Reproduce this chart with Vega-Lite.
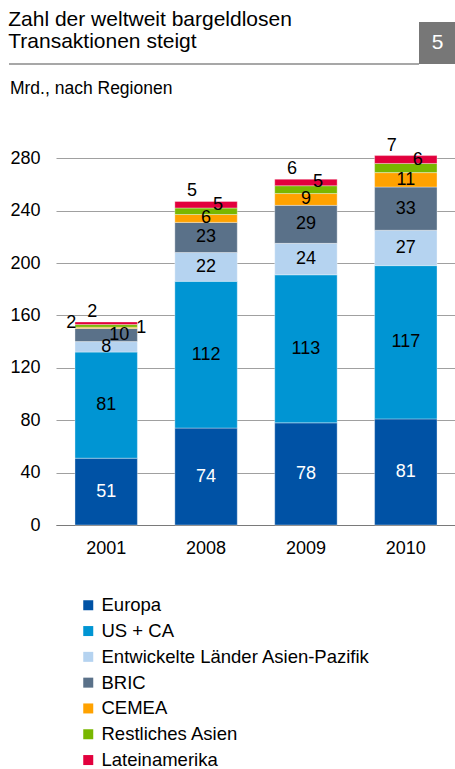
{
  "$schema": "https://vega.github.io/schema/vega-lite/v6.json",
  "padding": {"left": 8, "top": 8, "right": 0, "bottom": 0},
  "background": "white",
  "config": {
    "font": "Liberation Sans",
    "view": {"stroke": null},
    "title": {"fontWeight": "normal", "color": "#000000", "font": "Liberation Sans"},
    "axis": {"labelFont": "Liberation Sans", "labelColor": "#000000"},
    "text": {"font": "Liberation Sans"},
    "legend": {
      "labelFont": "Liberation Sans",
      "labelFontSize": 18.5,
      "labelColor": "#000000",
      "labelLimit": 400,
      "symbolType": "square",
      "symbolSize": 100,
      "symbolStrokeWidth": 0,
      "rowPadding": 6.8,
      "labelOffset": 4,
      "padding": 0
    }
  },
  "title": {
    "text": ["Zahl der weltweit bargeldlosen", "Transaktionen steigt"],
    "anchor": "start",
    "fontSize": 21,
    "lineHeight": 22.5,
    "offset": -30
  },
  "datasets": {
    "tx": [
      {"year": "2001", "region": "Europa", "value": 51},
      {"year": "2001", "region": "US + CA", "value": 81},
      {"year": "2001", "region": "Entwickelte Länder Asien-Pazifik", "value": 8},
      {"year": "2001", "region": "BRIC", "value": 10},
      {"year": "2001", "region": "CEMEA", "value": 1},
      {"year": "2001", "region": "Restliches Asien", "value": 2},
      {"year": "2001", "region": "Lateinamerika", "value": 2},
      {"year": "2008", "region": "Europa", "value": 74},
      {"year": "2008", "region": "US + CA", "value": 112},
      {"year": "2008", "region": "Entwickelte Länder Asien-Pazifik", "value": 22},
      {"year": "2008", "region": "BRIC", "value": 23},
      {"year": "2008", "region": "CEMEA", "value": 6},
      {"year": "2008", "region": "Restliches Asien", "value": 5},
      {"year": "2008", "region": "Lateinamerika", "value": 5},
      {"year": "2009", "region": "Europa", "value": 78},
      {"year": "2009", "region": "US + CA", "value": 113},
      {"year": "2009", "region": "Entwickelte Länder Asien-Pazifik", "value": 24},
      {"year": "2009", "region": "BRIC", "value": 29},
      {"year": "2009", "region": "CEMEA", "value": 9},
      {"year": "2009", "region": "Restliches Asien", "value": 6},
      {"year": "2009", "region": "Lateinamerika", "value": 5},
      {"year": "2010", "region": "Europa", "value": 81},
      {"year": "2010", "region": "US + CA", "value": 117},
      {"year": "2010", "region": "Entwickelte Länder Asien-Pazifik", "value": 27},
      {"year": "2010", "region": "BRIC", "value": 33},
      {"year": "2010", "region": "CEMEA", "value": 11},
      {"year": "2010", "region": "Restliches Asien", "value": 7},
      {"year": "2010", "region": "Lateinamerika", "value": 6}
    ]
  },
  "resolve": {"scale": {"x": "independent", "y": "independent"}},
  "spacing": 14,
  "vconcat": [
    {
      "width": 400,
      "height": 42,
      "data": {"values": [{"n": "5"}]},
      "layer": [
        {
          "mark": {"type": "rule", "color": "#8a8a8a", "strokeWidth": 1.5},
          "encoding": {
            "x": {"datum": -47, "type": "quantitative", "scale": {"domain": [0, 400], "nice": false, "zero": false}, "axis": null},
            "x2": {"datum": 363},
            "y": {"datum": 0, "type": "quantitative", "scale": {"domain": [0, 1], "nice": false}, "axis": null}
          }
        },
        {
          "mark": {"type": "rect", "color": "#777777"},
          "encoding": {
            "x": {"datum": 363, "type": "quantitative"},
            "x2": {"datum": 400},
            "y": {"datum": 0, "type": "quantitative"},
            "y2": {"datum": 1}
          }
        },
        {
          "mark": {"type": "text", "color": "#ffffff", "fontSize": 21, "baseline": "middle", "align": "center"},
          "encoding": {
            "text": {"field": "n"},
            "x": {"datum": 381.5, "type": "quantitative"},
            "y": {"datum": 0.5, "type": "quantitative"}
          }
        }
      ]
    },
    {
      "width": 400,
      "height": 393,
      "title": {"text": "Mrd., nach Regionen", "anchor": "start", "frame": "bounds", "fontSize": 17.5, "offset": 35},
      "data": {"name": "tx"},
      "transform": [
        {"stack": "value", "groupby": ["year"], "as": ["y0", "y1"]},
        {"joinaggregate": [{"op": "sum", "field": "value", "as": "total"}], "groupby": ["year"]}
      ],
      "encoding": {
        "x": {
          "field": "year",
          "type": "ordinal",
          "scale": {"paddingInner": 0.375, "paddingOuter": 0.19},
          "axis": {"title": null, "labelAngle": 0, "labelFontSize": 18, "labelPadding": 14, "ticks": false, "domain": true, "domainColor": "#7a7a7a", "domainWidth": 1.2}
        }
      },
      "layer": [
        {
          "mark": {"type": "bar", "stroke": "#ffffff", "strokeWidth": 1, "strokeOpacity": 0.35},
          "encoding": {
            "y": {
              "field": "y0",
              "type": "quantitative",
              "scale": {"domain": [0, 300], "nice": false},
              "axis": {"title": null, "values": [0, 40, 80, 120, 160, 200, 240, 280], "grid": true, "gridColor": "#a0a0a0", "gridWidth": 1.2, "domain": false, "ticks": false, "labelFontSize": 18, "labelPadding": 16}
            },
            "y2": {"field": "y1"},
            "color": {
              "field": "region",
              "type": "nominal",
              "scale": {
                "domain": ["Europa", "US + CA", "Entwickelte Länder Asien-Pazifik", "BRIC", "CEMEA", "Restliches Asien", "Lateinamerika"],
                "range": ["#0052A5", "#0095D3", "#B5D3F0", "#5A7189", "#FFA200", "#79B700", "#E2003D"]
              },
              "legend": {"title": null, "orient": "none", "legendX": 23, "legendY": 574, "direction": "vertical"}
            }
          }
        },
        {
          "transform": [
            {"filter": "indexof(['Europa','US + CA','Entwickelte Länder Asien-Pazifik','BRIC','CEMEA'], datum.region) >= 0 && !(datum.year === '2001' && (datum.region === 'CEMEA' || datum.region === 'BRIC'))"},
            {"fold": ["y0", "y1"], "as": ["edge", "pos"]},
            {"aggregate": [{"op": "mean", "field": "pos", "as": "mid"}], "groupby": ["year", "region", "value"]}
          ],
          "mark": {"type": "text", "fontSize": 18, "baseline": "middle"},
          "encoding": {
            "y": {"field": "mid", "type": "quantitative"},
            "text": {"field": "value"},
            "color": {"condition": {"test": "datum.region === 'Europa'", "value": "#ffffff"}, "value": "#000000"}
          }
        },
        {
          "transform": [
            {"filter": "datum.year === '2001' && datum.region === 'BRIC'"},
            {"fold": ["y0", "y1"], "as": ["edge", "pos"]},
            {"aggregate": [{"op": "mean", "field": "pos", "as": "mid"}], "groupby": ["year", "region", "value"]}
          ],
          "mark": {"type": "text", "fontSize": 18, "baseline": "middle", "dx": 13, "color": "#000000"},
          "encoding": {
            "y": {"field": "mid", "type": "quantitative"},
            "text": {"field": "value"}
          }
        },
        {
          "transform": [
            {"filter": "datum.year !== '2001' && datum.region === 'Lateinamerika'"},
            {"fold": ["y0", "y1"], "as": ["edge", "pos"]},
            {"aggregate": [{"op": "mean", "field": "pos", "as": "mid"}], "groupby": ["year", "region", "value"]}
          ],
          "mark": {"type": "text", "fontSize": 18, "baseline": "middle", "dx": 12, "color": "#000000"},
          "encoding": {
            "y": {"field": "mid", "type": "quantitative"},
            "text": {"field": "value"}
          }
        },
        {
          "transform": [{"filter": "datum.region === 'Restliches Asien'"}],
          "mark": {"type": "text", "fontSize": 18, "baseline": "middle", "dx": -14, "dy": -10, "color": "#000000"},
          "encoding": {
            "y": {"field": "total", "type": "quantitative"},
            "text": {"field": "value"}
          }
        },
        {
          "transform": [
            {"filter": "datum.year === '2001' && datum.region === 'CEMEA'"},
            {"fold": ["y0", "y1"], "as": ["edge", "pos"]},
            {"aggregate": [{"op": "mean", "field": "pos", "as": "mid"}], "groupby": ["year", "region", "value"]}
          ],
          "mark": {"type": "text", "fontSize": 18, "baseline": "middle", "dx": 35, "color": "#000000"},
          "encoding": {
            "y": {"field": "mid", "type": "quantitative"},
            "text": {"field": "value"}
          }
        },
        {
          "transform": [
            {"filter": "datum.year === '2001' && datum.region === 'Lateinamerika'"},
            {"fold": ["y0", "y1"], "as": ["edge", "pos"]},
            {"aggregate": [{"op": "mean", "field": "pos", "as": "mid"}], "groupby": ["year", "region", "value"]}
          ],
          "mark": {"type": "text", "fontSize": 18, "baseline": "middle", "dx": -35, "color": "#000000"},
          "encoding": {
            "y": {"field": "mid", "type": "quantitative"},
            "text": {"field": "value"}
          }
        }
      ]
    }
  ]
}
